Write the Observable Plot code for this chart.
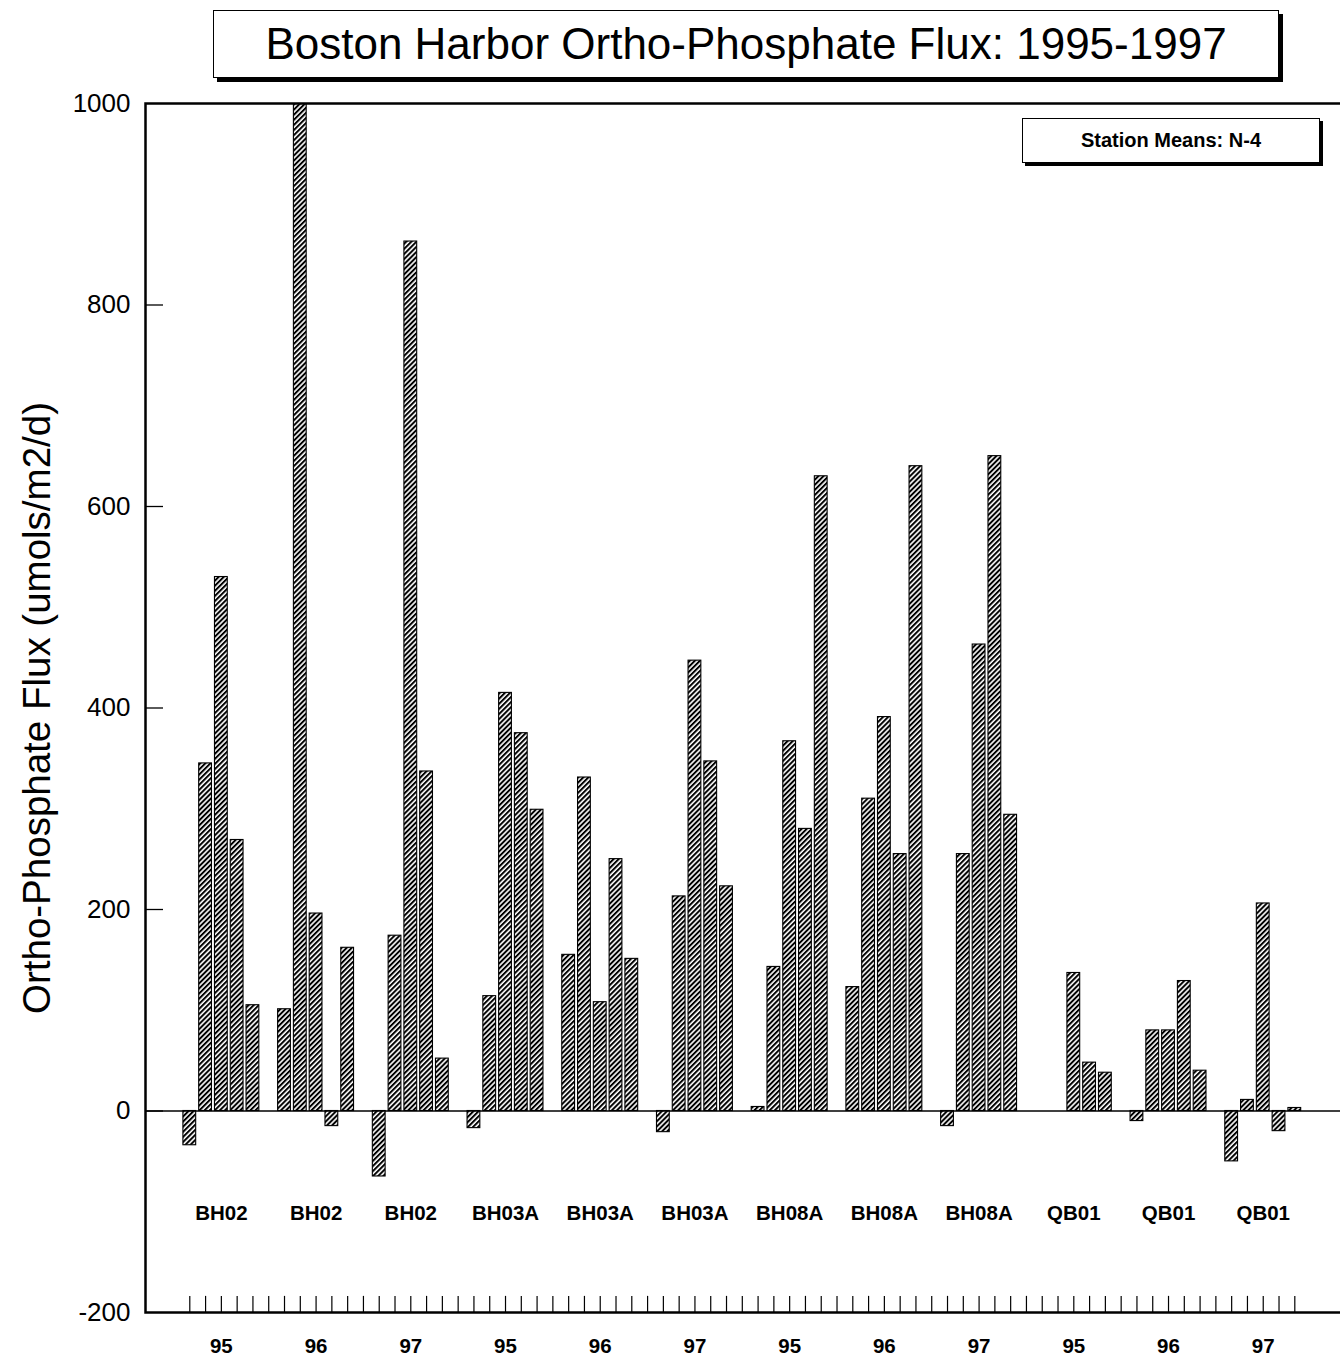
<!DOCTYPE html>
<html>
<head>
<meta charset="utf-8">
<script src="https://cdn.jsdelivr.net/npm/d3@7"></script>
<script src="https://cdn.jsdelivr.net/npm/@observablehq/plot@0.6"></script>
<style>
  html, body { margin: 0; padding: 0; background: #fff; }
  #wrap { position: relative; width: 1340px; height: 1360px; overflow: hidden; font-family: "Liberation Sans", Arial, sans-serif; }
  #wrap svg { display: block; position: absolute; left: 0; top: 0; }
  .title-box { position: absolute; left: 213px; top: 10px; width: 1064px; height: 66px; border: 1.5px solid #000; box-shadow: 4px 4px 0 #000; background: #fff; display: flex; align-items: center; justify-content: center; font-size: 44px; color: #000; }
  .legend-box { position: absolute; left: 1022px; top: 118px; width: 296px; height: 43px; border: 1.5px solid #000; box-shadow: 3px 3px 0 #000; background: #fff; display: flex; align-items: center; justify-content: center; font-size: 20px; font-weight: bold; color: #000; }
</style>
</head>
<body>
<div id="wrap">
  <div class="title-box">Boston Harbor Ortho-Phosphate Flux: 1995-1997</div>
  <div class="legend-box">Station Means: N-4</div>
</div>
<script>
// Categories: one group per station-year
const stations = ["BH02", "BH02", "BH02", "BH03A", "BH03A", "BH03A", "BH08A", "BH08A", "BH08A", "QB01", "QB01", "QB01"];
const years = ["95", "96", "97", "95", "96", "97", "95", "96", "97", "95", "96", "97"];

// Series: the five surveys within each station-year (umols/m2/d)
const survey1 = [-34, 101, -65, -17, 155, -21, 4, 123, -15, null, -10, -50];
const survey2 = [345, 1000, 174, 114, 331, 213, 143, 310, 255, null, 80, 11];
const survey3 = [530, 196, 863, 415, 108, 447, 367, 391, 463, 137, 80, 206];
const survey4 = [269, -15, 337, 375, 250, 347, 280, 255, 650, 48, 129, -20];
const survey5 = [105, 162, 52, 299, 151, 223, 630, 640, 294, 38, 40, 3];

// Y axis tick labels
const yTicks = [-200, 0, 200, 400, 600, 800, 1000];
const yLabel = "Ortho-Phosphate Flux (umols/m2/d)";

// Build table: each group has 5 bar slots followed by one empty slot
const series = [survey1, survey2, survey3, survey4, survey5];
const perGroup = series.length + 1;
const nSlots = stations.length * perGroup - 1;
const slots = d3.range(nSlots);
const bars = [];
stations.forEach((s, g) => {
  series.forEach((arr, j) => {
    if (arr[g] != null) bars.push({slot: g * perGroup + j, value: arr[g], station: s, year: years[g]});
  });
});
const groups = stations.map((s, g) => ({station: s, year: years[g], mid: g * perGroup + 2}));

const chart = Plot.plot({
  width: 1340,
  height: 1360,
  marginTop: 103,
  marginBottom: 48,
  marginLeft: 145,
  marginRight: 0,
  style: {fontFamily: "'Liberation Sans', Arial, sans-serif", color: "#000", background: "transparent", overflow: "visible"},
  x: {type: "band", domain: slots, range: [181.4, 1302.2], padding: 0, axis: null},
  y: {domain: [-200, 1000], axis: null},
  marks: [
    Plot.barY(bars, {x: "slot", y: "value", fill: "url(#hatch)", stroke: "#000", strokeWidth: 1.1, insetLeft: 1.5, insetRight: 1.5, clip: true}),
    Plot.ruleY([0], {stroke: "#000", strokeWidth: 1.3}),
    Plot.frame({stroke: "#000", strokeWidth: 2.5, insetRight: -6}),
    Plot.ruleY(yTicks.filter(d => d > -200 && d < 1000), {stroke: "#000", strokeWidth: 1.3, insetRight: 1340 - 145 - 18}),
    Plot.axisY({ticks: yTicks, tickSize: 0, tickPadding: 15, fontSize: 26, label: null, tickFormat: d => String(d)}),
    Plot.ruleX(slots, {x: d => d, y1: -200, y2: -184, stroke: "#000", strokeWidth: 1.2}),
    Plot.text(groups, {x: "mid", text: "station", frameAnchor: "bottom", dy: -93, fontSize: 20.5, fontWeight: "bold"}),
    Plot.text(groups, {x: "mid", text: "year", frameAnchor: "bottom", dy: 40, fontSize: 20.5, fontWeight: "bold"}),
    Plot.text([yLabel], {text: d => d, frameAnchor: "left", textAnchor: "middle", dx: -108, rotate: -90, fontSize: 38.5})
  ]
});

// hatch pattern
const defs = d3.select(chart).insert("defs", ":first-child");
const pat = defs.append("pattern")
  .attr("id", "hatch")
  .attr("patternUnits", "userSpaceOnUse")
  .attr("width", 3.6)
  .attr("height", 3.6)
  .attr("patternTransform", "rotate(45)");
pat.append("rect").attr("width", 3.6).attr("height", 3.6).attr("fill", "#fff");
pat.append("line").attr("x1", 1).attr("y1", 0).attr("x2", 1).attr("y2", 3.6).attr("stroke", "#000").attr("stroke-width", 2);

document.getElementById("wrap").prepend(chart);
</script>
</body>
</html>
